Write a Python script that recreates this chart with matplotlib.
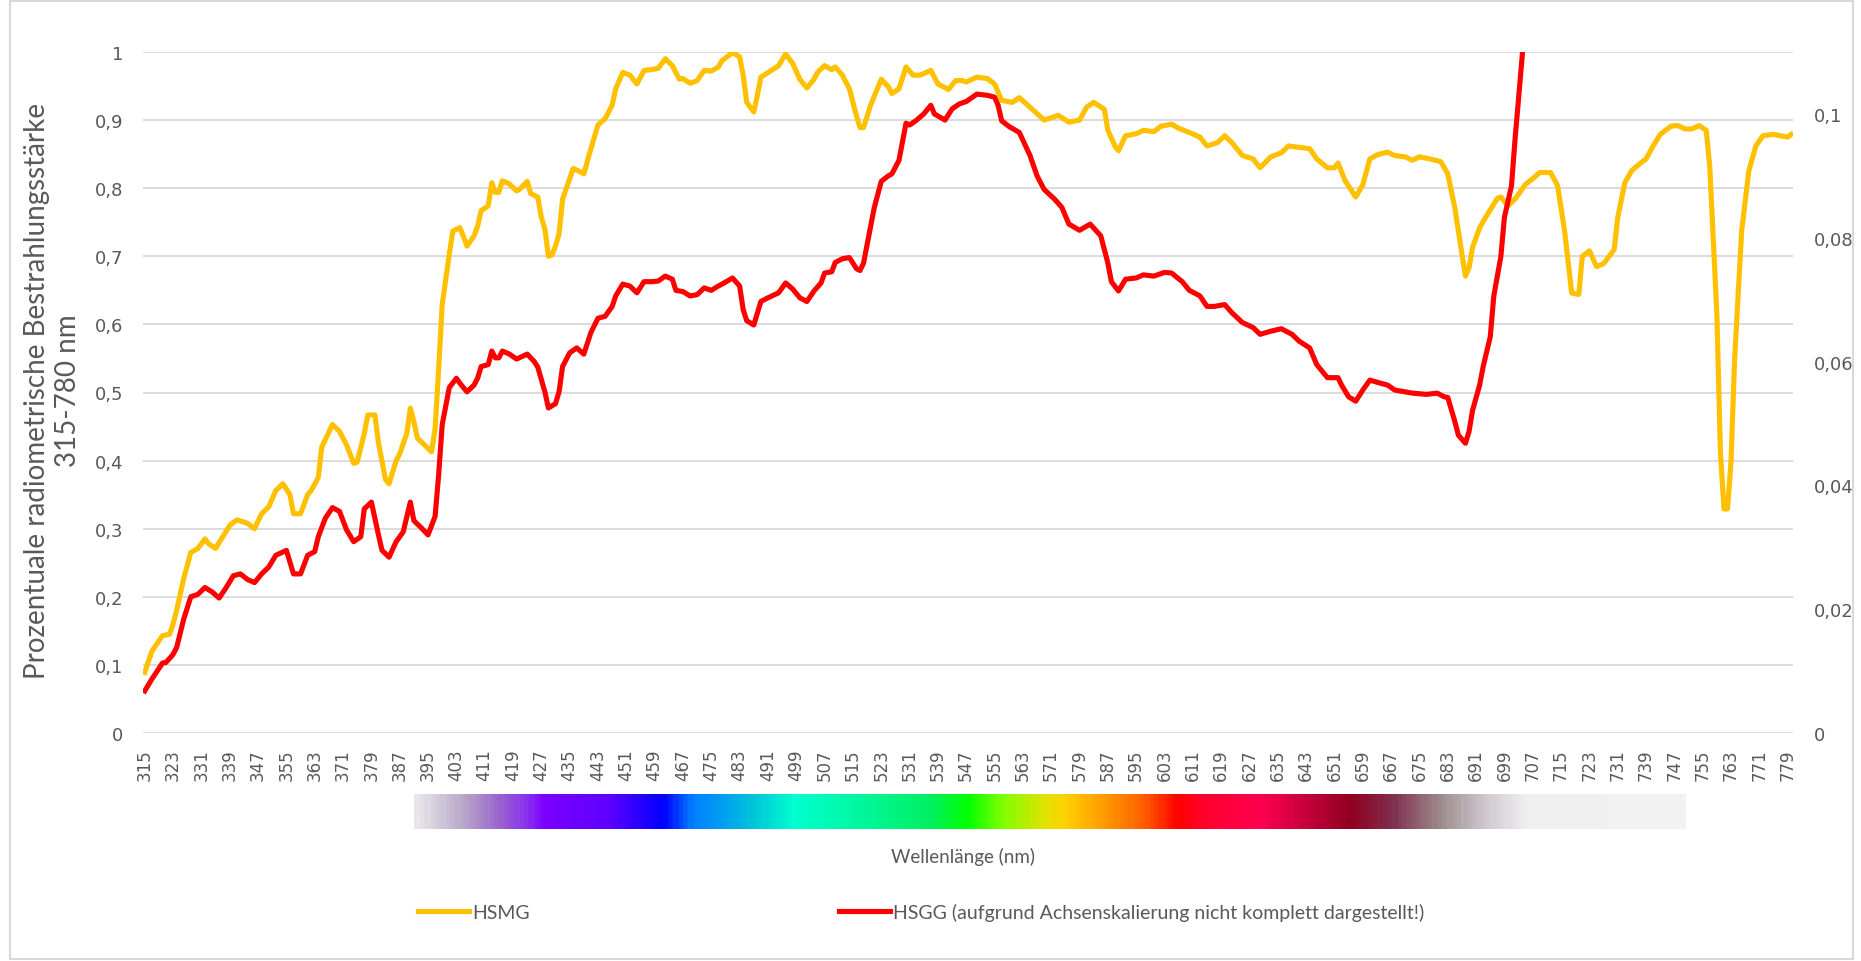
import numpy as np
import matplotlib
matplotlib.use("Agg")
from matplotlib import pyplot as plt
from matplotlib.colors import LinearSegmentedColormap
from matplotlib.patches import Rectangle

# HSMG, left axis (share of the max irradiance)
hsmg_nm = [315, 317, 320, 322, 323, 324, 326, 328, 330, 332, 333, 335, 339, 341, 344, 346, 348, 350,
           352, 354, 356, 357, 359, 361, 362, 364, 365, 368, 370, 372, 374, 375, 377, 378, 380, 381,
           383, 384, 386, 387, 389, 390, 391, 392, 394, 396, 397, 398, 399, 401, 402, 404, 405, 406,
           408, 409, 410, 412, 413, 414, 415, 416, 418, 420, 421, 423, 424, 426, 427, 428, 429, 430,
           431, 432, 433, 435, 436, 438, 439, 441, 443, 445, 447, 448, 450, 452, 454, 456, 458, 460,
           462, 464, 466, 467, 469, 471, 473, 475, 477, 478, 481, 483, 484, 485, 487, 488, 489, 492,
           494, 496, 498, 500, 502, 504, 505, 507, 509, 510, 512, 514, 516, 517, 518, 520, 523, 525,
           526, 528, 530, 532, 534, 537, 539, 542, 544, 546, 547, 550, 553, 555, 557, 560, 562, 565,
           569, 573, 576, 579, 581, 583, 586, 587, 589, 590, 592, 595, 597, 600, 602, 605, 607, 610,
           613, 615, 618, 620, 622, 625, 628, 630, 633, 636, 638, 641, 644, 646, 649, 651, 652, 654,
           657, 659, 661, 663, 666, 668, 671, 673, 675, 678, 681, 683, 685, 687, 688, 689, 690, 692,
           694, 697, 698, 700, 702, 705, 707, 709, 712, 714, 716, 718, 720, 721, 723, 725, 727, 730,
           731, 733, 735, 737, 739, 741, 743, 746, 748, 750, 752, 754, 756, 757, 759, 760, 761, 762,
           763, 764, 766, 768, 770, 772, 775, 777, 779, 780]
hsmg = [0.089, 0.12, 0.143, 0.145, 0.16, 0.18, 0.227, 0.265, 0.271, 0.285, 0.278, 0.271, 0.305, 0.313,
        0.308, 0.300, 0.322, 0.332, 0.356, 0.366, 0.350, 0.322, 0.322, 0.350, 0.356, 0.375, 0.42, 0.453,
        0.443, 0.423, 0.396, 0.398, 0.44, 0.467, 0.467, 0.426, 0.372, 0.366, 0.40, 0.41, 0.44, 0.477,
        0.457, 0.433, 0.423, 0.413, 0.447, 0.534, 0.629, 0.703, 0.737, 0.742, 0.729, 0.715, 0.730, 0.744,
        0.767, 0.774, 0.808, 0.794, 0.794, 0.811, 0.806, 0.796, 0.799, 0.810, 0.792, 0.787, 0.757, 0.74,
        0.70, 0.702, 0.715, 0.733, 0.784, 0.814, 0.829, 0.824, 0.821, 0.858, 0.893, 0.902, 0.922, 0.946,
        0.970, 0.966, 0.953, 0.973, 0.974, 0.976, 0.990, 0.980, 0.960, 0.961, 0.954, 0.958, 0.973, 0.972,
        0.978, 0.987, 0.999, 0.993, 0.966, 0.926, 0.912, 0.936, 0.963, 0.973, 0.980, 0.997, 0.983, 0.960,
        0.947, 0.960, 0.970, 0.980, 0.974, 0.978, 0.966, 0.946, 0.906, 0.889, 0.889, 0.922, 0.960, 0.949,
        0.939, 0.946, 0.978, 0.966, 0.966, 0.973, 0.953, 0.945, 0.958, 0.958, 0.956, 0.963, 0.961, 0.953,
        0.929, 0.926, 0.933, 0.919, 0.900, 0.907, 0.897, 0.900, 0.919, 0.926, 0.916, 0.885, 0.862, 0.855,
        0.877, 0.880, 0.885, 0.883, 0.891, 0.894, 0.888, 0.882, 0.875, 0.862, 0.867, 0.877, 0.867, 0.848,
        0.843, 0.830, 0.846, 0.852, 0.862, 0.860, 0.858, 0.843, 0.830, 0.830, 0.837, 0.811, 0.787, 0.805,
        0.843, 0.849, 0.853, 0.848, 0.846, 0.841, 0.846, 0.843, 0.839, 0.821, 0.771, 0.703, 0.671, 0.683,
        0.713, 0.742, 0.760, 0.785, 0.787, 0.774, 0.784, 0.806, 0.814, 0.823, 0.823, 0.804, 0.737, 0.646,
        0.644, 0.700, 0.708, 0.685, 0.689, 0.710, 0.757, 0.808, 0.826, 0.835, 0.843, 0.862, 0.879, 0.891,
        0.892, 0.887, 0.887, 0.892, 0.885, 0.831, 0.615, 0.413, 0.329, 0.329, 0.399, 0.548, 0.737, 0.825,
        0.862, 0.877, 0.879, 0.877, 0.875, 0.879]

# HSGG, right axis (runs off the top after ~704 nm)
hsgg_nm = [315, 317, 320, 321, 323, 324, 326, 328, 330, 332, 334, 336, 338, 340, 342, 344, 346, 348,
           350, 352, 355, 357, 359, 361, 363, 364, 366, 368, 370, 372, 374, 376, 377, 379, 381, 382,
           384, 386, 388, 390, 391, 393, 395, 397, 398, 399, 401, 403, 404, 406, 408, 409, 410, 412,
           413, 414, 415, 416, 418, 420, 423, 425, 426, 428, 429, 431, 432, 433, 435, 437, 439, 441,
           443, 445, 447, 448, 450, 452, 454, 456, 458, 460, 462, 464, 465, 467, 469, 471, 473, 475,
           477, 478, 481, 483, 484, 485, 487, 489, 491, 494, 496, 498, 500, 502, 504, 506, 507, 509,
           510, 512, 514, 516, 517, 518, 520, 521, 523, 525, 526, 528, 530, 531, 533, 535, 537, 538,
           541, 543, 545, 547, 548, 550, 553, 555, 556, 557, 559, 562, 565, 567, 569, 572, 574, 576,
           579, 582, 585, 587, 588, 590, 592, 595, 597, 600, 603, 605, 608, 610, 613, 615, 617, 620,
           622, 625, 628, 630, 633, 636, 639, 641, 644, 646, 649, 652, 653, 655, 657, 659, 661, 664,
           666, 668, 671, 673, 677, 680, 682, 683, 685, 686, 688, 689, 690, 692, 693, 695, 696, 698,
           699, 701, 702, 703, 704, 705, 707, 709]
hsgg = [0.0068, 0.0087, 0.0113, 0.0114, 0.0127, 0.0138, 0.0184, 0.0220, 0.0224, 0.0235, 0.0228, 0.0218,
        0.0235, 0.0254, 0.0257, 0.0248, 0.0243, 0.0257, 0.0268, 0.0287, 0.0295, 0.0257, 0.0257, 0.0287,
        0.0293, 0.0317, 0.0347, 0.0364, 0.0358, 0.0328, 0.0309, 0.0317, 0.0362, 0.0373, 0.0320, 0.0295,
        0.0284, 0.0309, 0.0325, 0.0373, 0.0343, 0.0332, 0.0320, 0.0350, 0.0417, 0.0498, 0.0558, 0.0573,
        0.0565, 0.0551, 0.0562, 0.0573, 0.0592, 0.0595, 0.0617, 0.0606, 0.0606, 0.0617, 0.0612, 0.0604,
        0.0612, 0.0600, 0.0591, 0.0551, 0.0525, 0.0532, 0.0551, 0.0592, 0.0614, 0.0622, 0.0612, 0.0647,
        0.0670, 0.0673, 0.0689, 0.0706, 0.0725, 0.0722, 0.0711, 0.0729, 0.0729, 0.0730, 0.0738, 0.0733,
        0.0715, 0.0713, 0.0706, 0.0708, 0.0719, 0.0715, 0.0722, 0.0725, 0.0735, 0.0722, 0.0684, 0.0666,
        0.0659, 0.0697, 0.0703, 0.0711, 0.0727, 0.0717, 0.0703, 0.0697, 0.0714, 0.0727, 0.0743, 0.0745,
        0.0760, 0.0766, 0.0768, 0.0750, 0.0747, 0.0759, 0.0818, 0.0848, 0.0891, 0.0900, 0.0903, 0.0925,
        0.0985, 0.0982, 0.0990, 0.1000, 0.1014, 0.1000, 0.0990, 0.1008, 0.1016, 0.1020, 0.1024, 0.1032,
        0.1030, 0.1027, 0.1014, 0.0989, 0.0980, 0.0970, 0.0933, 0.0900, 0.0878, 0.0862, 0.0849, 0.0822,
        0.0812, 0.0822, 0.0803, 0.0759, 0.0729, 0.0714, 0.0733, 0.0735, 0.0740, 0.0738, 0.0744, 0.0743,
        0.0729, 0.0715, 0.0706, 0.0689, 0.0689, 0.0692, 0.0679, 0.0663, 0.0655, 0.0644, 0.0649, 0.0653,
        0.0644, 0.0633, 0.0622, 0.0595, 0.0574, 0.0574, 0.0562, 0.0543, 0.0536, 0.0554, 0.0570, 0.0565,
        0.0562, 0.0554, 0.0551, 0.0549, 0.0547, 0.0549, 0.0543, 0.0542, 0.0503, 0.0481, 0.0468, 0.0487,
        0.0521, 0.0562, 0.0592, 0.0640, 0.0706, 0.0770, 0.0833, 0.0884, 0.0959, 0.1026, 0.1092, 0.118,
        0.135, 0.155]

x_ticks = list(range(315, 780, 8))
left_ticks = [0, 0.1, 0.2, 0.3, 0.4, 0.5, 0.6, 0.7, 0.8, 0.9, 1]
left_labels = ["0", "0,1", "0,2", "0,3", "0,4", "0,5", "0,6", "0,7", "0,8", "0,9", "1"]
right_ticks = [0, 0.02, 0.04, 0.06, 0.08, 0.1]
right_labels = ["0", "0,02", "0,04", "0,06", "0,08", "0,1"]

# colour strip under the axis
spec_nm = [391, 404, 414, 422, 427, 445, 461, 469, 478, 487, 498, 516, 537, 547, 557, 570, 575, 585,
           597, 607, 615, 630, 641, 656, 668, 675, 682, 694, 706, 750]
spec_col = ["#e8e6ea", "#b8a8c8", "#9a66cc", "#8a30f0", "#7a00ff", "#6000ff", "#0000ff", "#0080ff",
            "#00a0f0", "#00c8d8", "#00ffd0", "#00f8a0", "#00f060", "#00ff00", "#80ff00", "#e8e000",
            "#ffd000", "#ffa000", "#ff6000", "#ff0000", "#ff0030", "#ff0050", "#d00040", "#900020",
            "#803050", "#906070", "#a09090", "#d0c8d0", "#f0f0f0", "#f2f2f2"]

txt = "#595959"
grid = "#d9d9d9"
W, H = 1861, 962

fig = plt.figure(figsize=(W / 100, H / 100), dpi=100)
ax = fig.add_axes([143 / W, 1 - 734 / H, 1650 / W, 681 / H])
ax2 = ax.twinx()

l1, = ax.plot(hsmg_nm, hsmg, color="#ffc000", lw=3.7, solid_joinstyle="round", label="HSMG")
l2, = ax2.plot(hsgg_nm, hsgg, color="#ff0000", lw=3.7, solid_joinstyle="round",
               label="HSGG (aufgrund Achsenskalierung nicht komplett dargestellt!)")

ax.set_xlim(314.5, 780.5)
ax.set_ylim(0, 1)
ax2.set_ylim(0, 0.11)
ax.set_xticks(x_ticks)
ax.set_xticklabels([str(t) for t in x_ticks], rotation=90)
ax.set_yticks(left_ticks)
ax.set_yticklabels(left_labels)
ax2.set_yticks(right_ticks)
ax2.set_yticklabels(right_labels)
ax.yaxis.grid(True, color=grid, lw=1.3)
ax.set_axisbelow(True)
for a in (ax, ax2):
    for s in a.spines.values():
        s.set_visible(False)
ax.tick_params(axis="x", length=0, pad=11, labelsize=12, labelcolor=txt)
ax.tick_params(axis="y", length=0, pad=14, labelsize=13, labelcolor=txt)
ax2.tick_params(axis="y", length=0, pad=15, labelsize=13, labelcolor=txt)

# spectrum strip, same x scale as the chart
sax = fig.add_axes([143 / W, 1 - 830 / H, 1650 / W, 35 / H])
pos = [(n - spec_nm[0]) / (spec_nm[-1] - spec_nm[0]) for n in spec_nm]
cmap = LinearSegmentedColormap.from_list("spec", list(zip(pos, spec_col)))
sax.imshow(np.linspace(0, 1, 600)[None, :], cmap=cmap, aspect="auto",
           extent=[spec_nm[0], spec_nm[-1], 0, 1])
sax.set_xlim(314.5, 780.5)
sax.axis("off")

fig.text(37 / W, 1 - 391 / H, "Prozentuale radiometrische Bestrahlungsstärke", rotation=90,
         ha="center", va="center", fontsize=20, color=txt, family="Lato")
fig.text(68 / W, 1 - 391 / H, "315-780 nm", rotation=90,
         ha="center", va="center", fontsize=20, color=txt, family="Lato")
fig.text(963 / W, 1 - 857 / H, "Wellenlänge (nm)", ha="center", va="center",
         fontsize=13.5, color=txt, family="Lato")

fig.legend(handles=[l1, l2], loc="center left", bbox_to_anchor=(418 / W, 1 - 913 / H), ncol=2,
           frameon=False, borderpad=0, borderaxespad=0, handlelength=2.63, handletextpad=0.15,
           columnspacing=15.9, prop={"family": "Lato", "size": 14}, labelcolor=txt)

fig.patches.append(Rectangle((10 / W, 2 / H), 1843 / W, 958 / H, transform=fig.transFigure,
                             fill=False, edgecolor=grid, lw=1.5))

fig.savefig("out.png", dpi=100)
